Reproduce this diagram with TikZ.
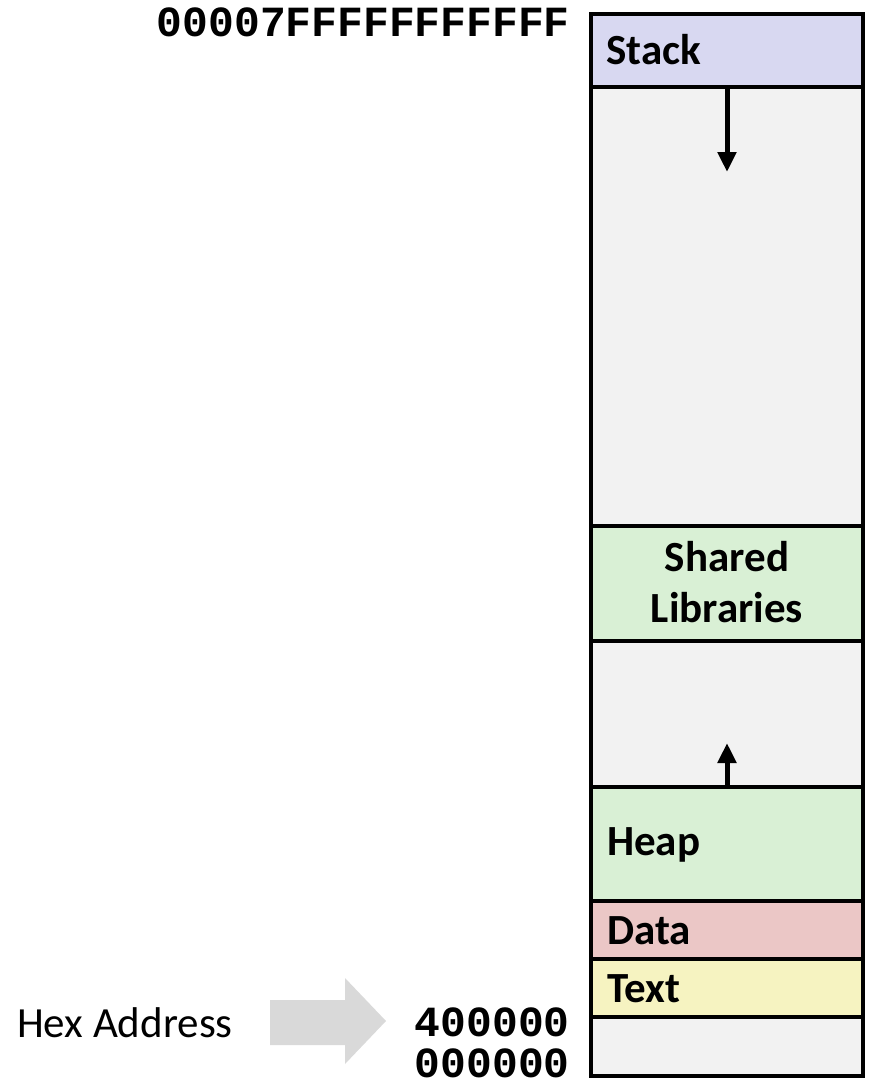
\documentclass[tikz,border=0pt]{standalone}
\usepackage{fontspec}
\setmainfont{Carlito}
\setmonofont{Liberation Mono}
\usetikzlibrary{arrows.meta}
\definecolor{stackc}{HTML}{D8D8F1}
\definecolor{grayc}{HTML}{F2F2F2}
\definecolor{greenc}{HTML}{D9F0D5}
\definecolor{pinkc}{HTML}{EBC7C6}
\definecolor{yellowc}{HTML}{F6F3C1}
\definecolor{hexarrow}{HTML}{D9D9D9}
\begin{document}
\begin{tikzpicture}[x=1pt,y=-1pt]
\tikzset{
 seg/.style={draw=black, line width=4pt, minimum width=272pt, inner sep=0pt, outer sep=0pt, anchor=north west, rectangle},
 lab/.style={font=\fontsize{43}{51}\selectfont\bfseries, anchor=west, inner sep=0pt},
 addr/.style={font=\fontsize{43}{50}\selectfont\ttfamily\bfseries, anchor=east, inner sep=0pt},
 growarrow/.style={line width=5pt, -{Triangle[width=18pt,length=20pt]}},
}
\useasboundingbox (0,0) rectangle (874,1084);
% segments
\node[seg, fill=stackc, minimum height=73pt] (stack) at (591,14) {};
\node[seg, fill=grayc, minimum height=439pt] (gap1) at (591,87) {};
\node[seg, fill=greenc, minimum height=115pt] (shlib) at (591,526) {};
\node[seg, fill=grayc, minimum height=146pt] (gap2) at (591,641) {};
\node[seg, fill=greenc, minimum height=114pt] (heap) at (591,787) {};
\node[seg, fill=pinkc, minimum height=58pt] (data) at (591,901) {};
\node[seg, fill=yellowc, minimum height=58pt] (text) at (591,959) {};
\node[seg, fill=grayc, minimum height=59pt] (bottom) at (591,1017) {};
% labels
\node[lab] (lstack) at (606,50) {Stack};
\node[lab, anchor=center, align=center] (lshlib) at (727,582) {Shared\\Libraries};
\node[lab] (lheap) at (607,845) {Heap};
\node[lab] (ldata) at (607,931) {Data};
\node[lab] (ltext) at (607,989) {Text};
% growth arrows
\coordinate (stackend) at (727,172);
\coordinate (heapend) at (727,743);
\draw[growarrow] (stack.south) -- (stackend);
\draw[growarrow] (heap.north) -- (heapend);
% addresses
\node[addr] (atop) at (570,22) {00007FFFFFFFFFFF};
\node[addr] (a400) at (570,1022) {400000};
\node[addr] (a000) at (570,1063) {000000};
\node[font=\fontsize{43}{50}\selectfont, anchor=west, inner sep=0pt] (hex) at (17,1023) {Hex Address};
\fill[hexarrow] (270,1000) -- (345,1000) -- (345,978) -- (386,1021) -- (345,1064) -- (345,1045) -- (270,1045) -- cycle;
\end{tikzpicture}
\end{document}
